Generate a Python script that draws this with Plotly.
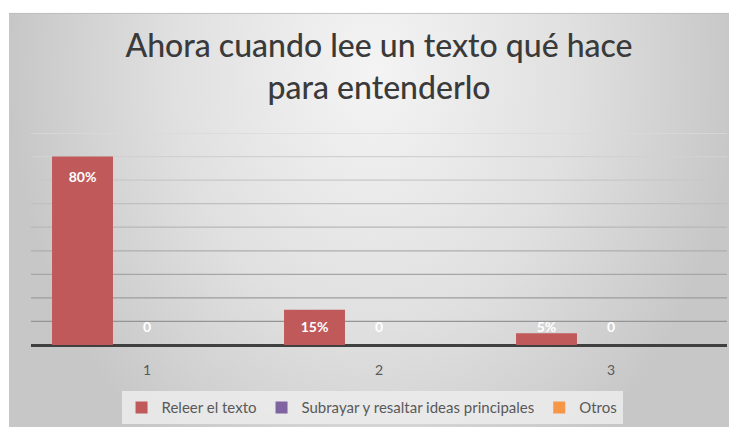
import base64
import plotly.graph_objects as go

# data
categories = [1, 2, 3]
series_names = ["Releer el texto", "Subrayar y resaltar ideas principales", "Otros"]
releer = [0.80, 0.15, 0.05]
subrayar = [0, 0, 0]
otros = [None, None, None]
values = [releer, subrayar, otros]
colors = ["#c0595a", "#8064a2", "#f79646"]
y_ticks = [0.1, 0.2, 0.3, 0.4, 0.5, 0.6, 0.7, 0.8, 0.9]

# the page body adds an 8px margin, so the figure is 8px smaller
W, H = 729, 426
BARGAP = 0.166
GROUPGAP = 0.055
n = len(series_names)
bw = (1 - BARGAP) / n

# grey radial background like the Excel chart area
svg = (
    "<svg xmlns='http://www.w3.org/2000/svg' width='728' height='424'>"
    "<defs><radialGradient id='g' gradientUnits='userSpaceOnUse' cx='364' cy='60' r='364' "
    "gradientTransform='translate(364 60) scale(1 1.3) translate(-364 -60)'>"
    "<stop offset='0' stop-color='#f4f4f4'/><stop offset='0.55' stop-color='#e0e0e0'/>"
    "<stop offset='1' stop-color='#c7c7c7'/></radialGradient></defs>"
    "<rect x='0' y='0' width='728' height='424' fill='url(#g)'/>"
    "<line x1='0' y1='0.5' x2='728' y2='0.5' stroke='#bcbcbc'/>"
    "</svg>"
)
bg_src = "data:image/svg+xml;base64," + base64.b64encode(svg.encode()).decode()

fig = go.Figure()

for i, (name, vals, col) in enumerate(zip(series_names, values, colors)):
    fig.add_trace(
        go.Bar(
            x=categories,
            y=vals,
            name=name,
            marker=dict(color=col, line=dict(width=0)),
            hoverinfo="skip",
        )
    )

# data labels (Excel style: inside end, floor near the axis)
for i, vals in enumerate(values):
    xs, ys, ts = [], [], []
    for c, v in zip(categories, vals):
        if v is None:
            continue
        xs.append(c + (i - (n - 1) / 2) * bw)
        ys.append(max(v - 0.092, 0.07))
        ts.append(f"{v:.0%}" if v > 0 else "0")
    fig.add_trace(
        go.Scatter(
            x=xs,
            y=ys,
            text=ts,
            mode="text",
            textfont=dict(family="Lato", size=14, color="white", weight="bold"),
            showlegend=False,
            hoverinfo="skip",
        )
    )

# gridlines, lighter towards the top
shapes = []
for k, t in enumerate(y_ticks):
    g = int(0x95 + (0xda - 0x95) * k / (len(y_ticks) - 1))
    shapes.append(
        dict(
            type="line",
            xref="paper",
            yref="y",
            x0=0,
            x1=1,
            y0=t,
            y1=t,
            line=dict(color=f"rgb({g},{g},{g})", width=1.3),
            layer="below",
        )
    )

ml, mr, mt, mb = 23, 10, 125, 84
pw, ph = W - ml - mr, H - mt - mb

fig.update_layout(
    width=W,
    height=H,
    margin=dict(l=ml, r=mr, t=mt, b=mb),
    paper_bgcolor="white",
    plot_bgcolor="rgba(0,0,0,0)",
    barmode="group",
    bargap=BARGAP,
    bargroupgap=GROUPGAP,
    shapes=shapes,
    images=[
        dict(
            source=bg_src,
            xref="paper",
            yref="paper",
            x=(1 - ml) / pw,
            y=(H - mb - 2) / ph,
            sizex=(W - 1) / pw,
            sizey=(H - 2) / ph,
            xanchor="left",
            yanchor="top",
            sizing="stretch",
            layer="below",
        )
    ],
    title=dict(
        text="Ahora cuando lee un texto qué hace<br>para entenderlo",
        x=(ml + pw / 2) / W,
        xanchor="center",
        y=1 - 49 / H,
        yanchor="top",
        font=dict(family="Lato", size=32, color="#3a3a3a", weight=500),
    ),
    legend=dict(
        orientation="h",
        x=0.49,
        xanchor="center",
        y=-0.296,
        yanchor="middle",
        bgcolor="rgba(236,236,236,0.85)",
        font=dict(family="Lato", size=15, color="#595959"),
        itemclick=False,
    ),
    showlegend=True,
    font=dict(family="Lato"),
)

fig.update_xaxes(
    range=[0.5, 3.5],
    tickvals=categories,
    ticktext=[str(c) for c in categories],
    showgrid=False,
    zeroline=False,
    ticks="",
    ticklabelstandoff=15,
    tickfont=dict(family="Lato", size=14, color="#595959"),
)
fig.update_yaxes(
    range=[0, 0.9],
    showgrid=False,
    showticklabels=False,
    zeroline=True,
    zerolinecolor="#404040",
    zerolinewidth=2.5,
)

fig.write_html("out.html")
